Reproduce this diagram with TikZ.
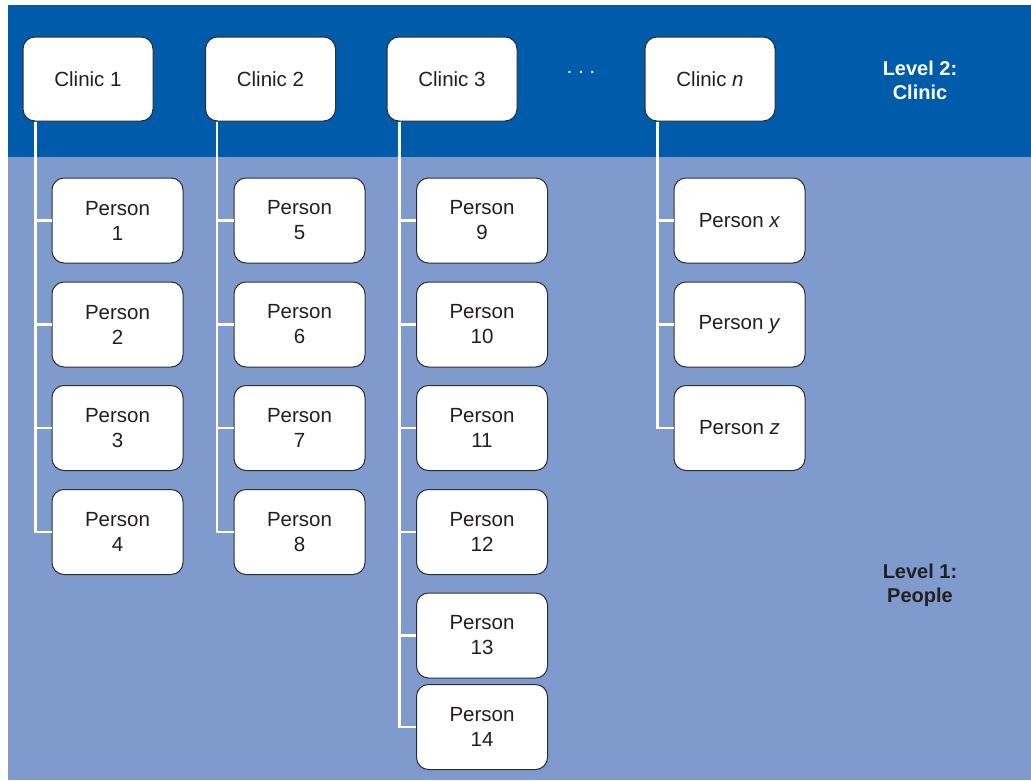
\documentclass[tikz,border=0pt]{standalone}
\usepackage{fontspec}
\setmainfont{Liberation Sans}
\usetikzlibrary{calc}
\definecolor{topblue}{RGB}{0,91,170}
\definecolor{lowblue}{RGB}{127,154,204}
\definecolor{boxedge}{RGB}{45,45,45}
\definecolor{darktext}{RGB}{35,31,32}
\begin{document}
\begin{tikzpicture}[x=1pt,y=-1pt,
  box/.style={draw=boxedge,line width=1pt,fill=white,rounded corners=12pt,
    minimum width=130pt,minimum height=84pt,align=center,inner sep=0pt,
    font=\fontsize{20.5}{25}\selectfont,text=darktext},
  pbox/.style={box,minimum width=131pt,minimum height=85pt},
  conn/.style={draw=white,line width=2.2pt},
  lvl/.style={font=\fontsize{20}{24}\selectfont\bfseries,align=center}]
\useasboundingbox (0,0) rectangle (1031,780);
\fill[white] (0,0) rectangle (1031,780);
\fill[topblue] (8,5) rectangle (1031,157);
\fill[lowblue] (8,157) rectangle (1031,780);
% clinics
\node[box] (c1) at (88,79) {Clinic 1};
\node[box] (c2) at (270.5,79) {Clinic 2};
\node[box] (c3) at (452,79) {Clinic 3};
\node[box] (cn) at (710,79) {Clinic \textit{n}};
\node[text=white,font=\fontsize{19.5}{24}\selectfont] (dots) at (581,72) {.\hspace{6pt}.\hspace{6pt}.};
% level labels
\node[lvl,text=white] (l2) at (920,80) {Level 2:\\Clinic};
\node[lvl,text=darktext] (l1) at (920,585) {Level 1:\\People};
% column 1
\node[pbox] (p1) at (117.5,220.5) {Person\\1};
\node[pbox] (p2) at (117.5,324.5) {Person\\2};
\node[pbox] (p3) at (117.5,428) {Person\\3};
\node[pbox] (p4) at (117.5,532) {Person\\4};
% column 2
\node[pbox] (p5) at (299.5,220.5) {Person\\5};
\node[pbox] (p6) at (299.5,324.5) {Person\\6};
\node[pbox] (p7) at (299.5,428) {Person\\7};
\node[pbox] (p8) at (299.5,532) {Person\\8};
% column 3
\node[pbox] (p9) at (482,220.5) {Person\\9};
\node[pbox] (p10) at (482,324.5) {Person\\10};
\node[pbox] (p11) at (482,428) {Person\\11};
\node[pbox] (p12) at (482,532) {Person\\12};
\node[pbox] (p13) at (482,635.5) {Person\\13};
\node[pbox] (p14) at (482,727) {Person\\14};
% column n
\node[pbox] (px) at (739.5,220.5) {Person \textit{x}};
\node[pbox] (py) at (739.5,324.5) {Person \textit{y}};
\node[pbox] (pz) at (739.5,428) {Person \textit{z}};
% connectors
\coordinate (s1) at ($(c1.south west)+(13,0)$);
\coordinate (s2) at ($(c2.south west)+(12,0)$);
\coordinate (s3) at ($(c3.south west)+(13,0)$);
\coordinate (sn) at ($(cn.south west)+(13,0)$);
\foreach \p in {p1,p2,p3,p4} \draw[conn] (s1) |- (\p.west);
\foreach \p in {p5,p6,p7,p8} \draw[conn] (s2) |- (\p.west);
\foreach \p in {p9,p10,p11,p12,p13,p14} \draw[conn] (s3) |- (\p.west);
\foreach \p in {px,py,pz} \draw[conn] (sn) |- (\p.west);
\end{tikzpicture}
\end{document}
